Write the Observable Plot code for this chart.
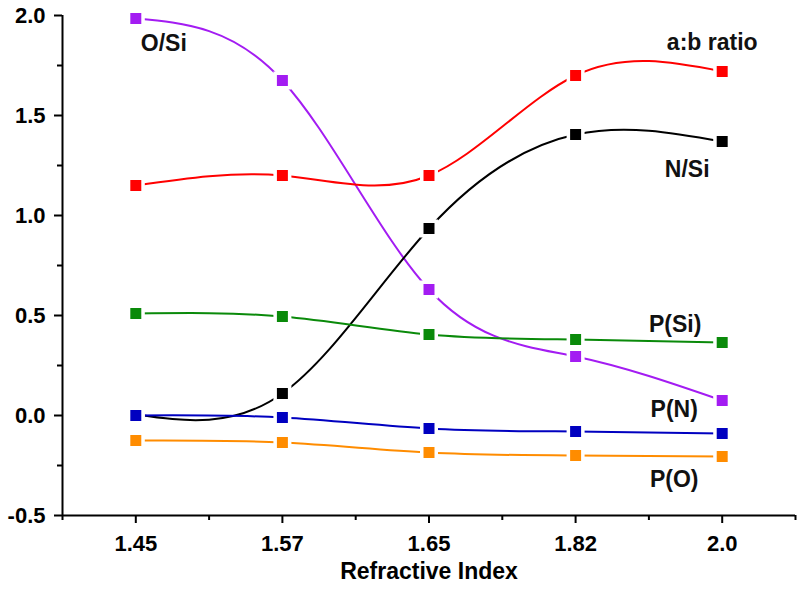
<!DOCTYPE html>
<html><head><meta charset="utf-8">
<script src="https://cdn.jsdelivr.net/npm/d3@7"></script>
<script src="https://cdn.jsdelivr.net/npm/@observablehq/plot@0.6"></script>
<style>body{margin:0;background:#fff}</style>
</head><body><div id="chart"></div>
<script>
const categories = ["1.45", "1.57", "1.65", "1.82", "2.0"];
const seriesNames = ["O/Si", "a:b ratio", "N/Si", "P(Si)", "P(N)", "P(O)"];
const oSi   = [1.985, 1.675, 0.63, 0.295, 0.075];
const abRatio = [1.15, 1.20, 1.20, 1.70, 1.72];
const nSi   = [0.005, 0.11, 0.935, 1.405, 1.37];
const pSi   = [0.51, 0.495, 0.405, 0.38, 0.365];
const pN    = [0.0, -0.01, -0.065, -0.08, -0.09];
const pO    = [-0.125, -0.135, -0.185, -0.20, -0.205];
const seriesValues = [oSi, abRatio, nSi, pSi, pN, pO];
const colors = ["#a31cf2", "#ff0000", "#000000", "#0a8a0a", "#0000c0", "#ff8c00"];
const yTicks = [-0.5, 0, 0.5, 1.0, 1.5, 2.0];
const yMinorTicks = [-0.25, 0.25, 0.75, 1.25, 1.75];

const rows = [];
seriesNames.forEach((s, si) => seriesValues[si].forEach((v, i) => rows.push({series: s, i, v, order: si})));

// label placement: anchor point index and pixel offset
const labelCfg = [
  {i: 0, dx: 28, dy: 25},
  {i: 4, dx: -10, dy: -29},
  {i: 4, dx: -35, dy: 28},
  {i: 4, dx: -47, dy: -18},
  {i: 4, dx: -48, dy: -24},
  {i: 4, dx: -48, dy: 23}
];

const font = "'Liberation Sans', Arial, sans-serif";
const marks = [
  Plot.axisY({ticks: yTicks, tickFormat: d => d.toFixed(1), tickSize: 8, tickPadding: 9, label: null, fontSize: 22, fontWeight: "bold", strokeWidth: 2}),
  Plot.axisY({ticks: yMinorTicks, tickFormat: () => "", tickSize: 5, label: null, strokeWidth: 2}),
  Plot.axisX({ticks: d3.range(categories.length), tickFormat: i => categories[i], tickSize: 8, tickPadding: 12, label: null, fontSize: 22, fontWeight: "bold", strokeWidth: 2}),
  Plot.axisX({ticks: d3.range(categories.length + 1).map(k => k - 0.5), tickFormat: () => "", tickSize: 5, label: null, strokeWidth: 2}),
  Plot.ruleX([-0.5], {strokeWidth: 2}),
  Plot.ruleY([-0.5], {strokeWidth: 2}),
  Plot.line(rows, {x: "i", y: "v", z: "series", stroke: "series", curve: "natural", strokeWidth: 2}),
];
seriesNames.forEach((s, si) => {
  const d = rows.filter(r => r.series === s);
  marks.push(Plot.dot(d, {x: "i", y: "v", symbol: "square", r: 6.2, fill: colors[si], stroke: "white", strokeWidth: 7}));
  marks.push(Plot.dot(d, {x: "i", y: "v", symbol: "square", r: 6.2, fill: colors[si]}));
});
seriesNames.forEach((s, si) => {
  const c = labelCfg[si];
  marks.push(Plot.text([rows.find(r => r.series === s && r.i === c.i)], {x: "i", y: "v", text: () => s, dx: c.dx, dy: c.dy, fontSize: 23, fontWeight: "bold", fill: "#111"}));
});
marks.push(Plot.text(["Refractive Index"], {frameAnchor: "bottom", dy: 63, text: d => d, fontSize: 23, fontWeight: "bold"}));

const chart = Plot.plot({
  width: 800, height: 589,
  marginLeft: 62, marginRight: 5, marginTop: 15, marginBottom: 74,
  style: {fontFamily: font, fontSize: "22px", fontWeight: "bold", background: "#fff", overflow: "visible"},
  x: {type: "linear", domain: [-0.5, categories.length - 0.5], axis: null},
  y: {domain: [-0.5, 2.0], axis: null},
  color: {domain: seriesNames, range: colors},
  marks
});
document.getElementById("chart").appendChild(chart);
</script></body></html>
